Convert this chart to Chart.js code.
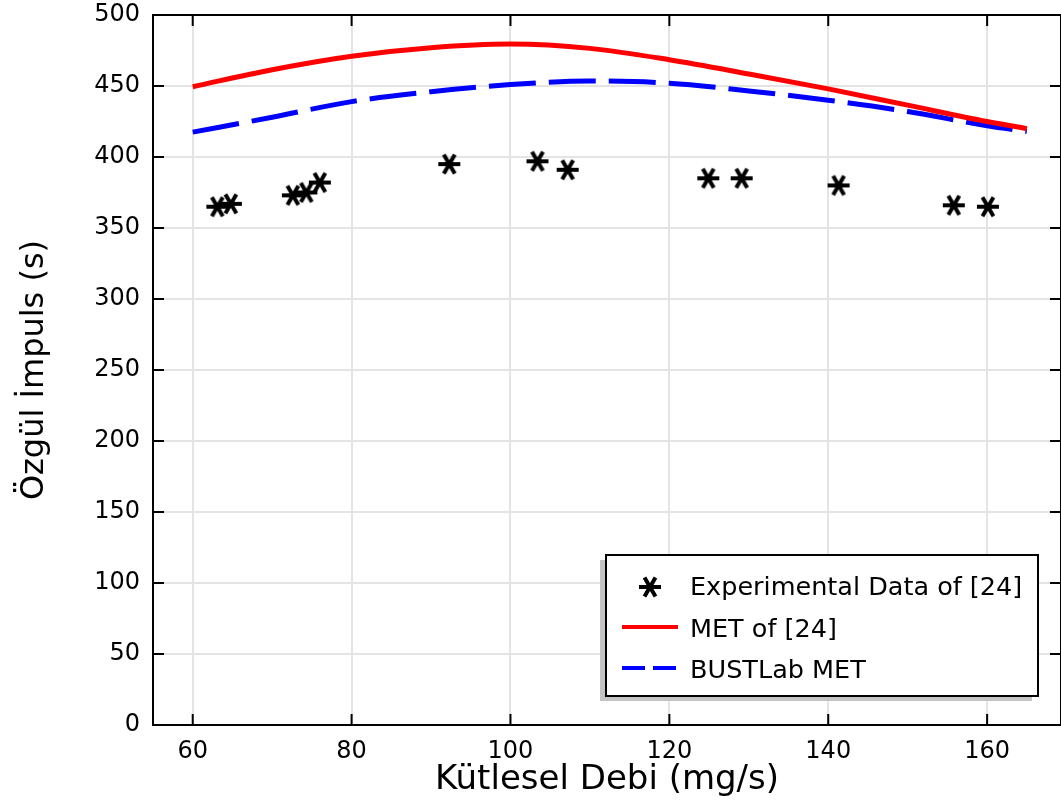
<!DOCTYPE html>
<html>
<head>
<meta charset="utf-8">
<title>Özgül İmpuls</title>
<script src="https://cdn.jsdelivr.net/npm/chart.js@4.4.0/dist/chart.umd.min.js"></script>
<style>
  html, body { margin: 0; padding: 0; background: #fff; overflow: hidden; }
  #wrap { width: 1061px; height: 805px; position: relative; }
</style>
</head>
<body>
<div id="wrap"><canvas id="ispChart"></canvas></div>
<script>
// experimental thruster points (mg/s, s)
const expFlow = [63.1, 64.8, 72.6, 74.3, 76.0, 92.3, 103.4, 107.2, 124.9, 129.1, 141.3, 155.8, 160.1];
const expIsp  = [365, 367, 373, 375, 382, 395, 397, 391, 385, 385, 380, 366, 365];

// model curves, sampled along the flow range
const modelFlow = [60, 70, 80, 90, 100, 110, 120, 130, 140, 150, 160, 165];
const metIsp    = [449.5, 461.5, 471, 477, 479.5, 476.5, 468.5, 458.5, 448, 436.5, 425, 420];
const bustIsp   = [417.5, 428, 439, 446, 451, 453.5, 452, 446.5, 440, 432, 422, 418];

const xTicks = [60, 80, 100, 120, 140, 160];
const yTicks = [0, 50, 100, 150, 200, 250, 300, 350, 400, 450, 500];
const seriesLabels = ['Experimental Data of [24]', 'MET of [24]', 'BUSTLab MET'];

const FONT = "'DejaVu Sans', 'Liberation Sans', sans-serif";

// six-armed asterisk marker
function makeAsterisk(r, lw) {
  const size = Math.ceil(2 * r + lw + 2);
  const c = document.createElement('canvas');
  c.width = size; c.height = size;
  const g = c.getContext('2d');
  g.translate(size / 2, size / 2);
  g.strokeStyle = '#000';
  g.lineWidth = lw;
  g.lineCap = 'butt';
  g.beginPath();
  for (const a of [0, Math.PI / 3, -Math.PI / 3]) {
    g.moveTo(-r * Math.cos(a), -r * Math.sin(a));
    g.lineTo(r * Math.cos(a), r * Math.sin(a));
  }
  g.stroke();
  return c;
}
const starImg = makeAsterisk(11, 4);

const toXY = (xs, ys) => xs.map((x, i) => ({ x: x, y: ys[i] }));

// box frame on all four sides with inward tick marks
const framePlugin = {
  id: 'frame',
  afterDraw(chart) {
    const { ctx, chartArea: a, scales } = chart;
    const len = 11;
    ctx.save();
    ctx.strokeStyle = '#000';
    ctx.lineWidth = 2;
    ctx.beginPath();
    xTicks.forEach(v => {
      const px = scales.x.getPixelForValue(v);
      ctx.moveTo(px, a.bottom); ctx.lineTo(px, a.bottom - len);
      ctx.moveTo(px, a.top); ctx.lineTo(px, a.top + len);
    });
    yTicks.forEach(v => {
      const py = scales.y.getPixelForValue(v);
      ctx.moveTo(a.left, py); ctx.lineTo(a.left + len, py);
      ctx.moveTo(a.right, py); ctx.lineTo(a.right - len, py);
    });
    ctx.stroke();
    ctx.strokeRect(a.left, a.top, a.right - a.left, a.bottom - a.top);
    ctx.restore();
  }
};

// legend box with drop shadow, lower right
const legendPlugin = {
  id: 'boxLegend',
  afterDraw(chart) {
    const { ctx } = chart;
    const bx = 606, by = 555, bw = 432, bh = 141;
    ctx.save();
    ctx.fillStyle = '#c4c4c4';
    ctx.fillRect(bx - 6, by + 5, bw, bh);
    ctx.fillStyle = '#fff';
    ctx.fillRect(bx, by, bw, bh);
    ctx.strokeStyle = '#000';
    ctx.lineWidth = 2;
    ctx.strokeRect(bx, by, bw, bh);

    const rows = [588, 630, 671];
    const ds = chart.data.datasets;
    // marker entry
    ctx.drawImage(starImg, 650 - starImg.width / 2, rows[0] - 1 - starImg.height / 2);
    // line entries
    [1, 2].forEach(i => {
      ctx.beginPath();
      ctx.strokeStyle = ds[i].borderColor;
      ctx.lineWidth = 4;
      ctx.setLineDash(i === 2 ? [23, 8] : []);
      ctx.moveTo(622, rows[i] - 3);
      ctx.lineTo(678, rows[i] - 3);
      ctx.stroke();
    });
    ctx.setLineDash([]);
    ctx.fillStyle = '#000';
    ctx.font = '25.5px ' + FONT;
    ctx.textBaseline = 'middle';
    ctx.textAlign = 'left';
    ds.forEach((d, i) => ctx.fillText(d.label, 690, rows[i]));
    ctx.restore();
  }
};

const ctx = document.getElementById('ispChart').getContext('2d');
new Chart(ctx, {
  type: 'scatter',
  data: {
    datasets: [{
      label: seriesLabels[0],
      data: toXY(expFlow, expIsp),
      pointStyle: starImg,
      showLine: false,
      order: 0
    }, {
      label: seriesLabels[1],
      data: toXY(modelFlow, metIsp),
      showLine: true,
      borderColor: '#ff0000',
      borderWidth: 5,
      pointRadius: 0,
      cubicInterpolationMode: 'monotone',
      order: 1
    }, {
      label: seriesLabels[2],
      data: toXY(modelFlow, bustIsp),
      showLine: true,
      borderColor: '#0000ff',
      borderWidth: 5,
      borderDash: [47, 13],
      pointRadius: 0,
      cubicInterpolationMode: 'monotone',
      order: 2
    }]
  },
  options: {
    responsive: true,
    maintainAspectRatio: false,
    animation: false,
    devicePixelRatio: 1,
    layout: { autoPadding: false, padding: { top: 15, right: 0, bottom: 0, left: 0 } },
    plugins: {
      legend: { display: false },
      tooltip: { enabled: false }
    },
    scales: {
      x: {
        type: 'linear',
        min: 55,
        max: 169.3,
        afterBuildTicks: s => { s.ticks = xTicks.map(v => ({ value: v })); },
        afterFit: s => { s.height = 80; s.paddingLeft = 0; s.paddingRight = 0; },
        grid: { color: '#e4e4e4', lineWidth: 2, drawTicks: false },
        border: { display: false },
        ticks: {
          color: '#000',
          padding: 12,
          font: { family: FONT, size: 24 },
          maxRotation: 0
        },
        title: {
          display: true,
          text: 'Kütlesel Debi (mg/s)',
          color: '#000',
          font: { family: FONT, size: 34 },
          padding: { top: 0, bottom: 4 }
        }
      },
      y: {
        min: 0,
        max: 500,
        afterBuildTicks: s => { s.ticks = yTicks.map(v => ({ value: v })); },
        afterFit: s => { s.width = 153; s.paddingTop = 0; s.paddingBottom = 0; },
        grid: { color: '#e4e4e4', lineWidth: 2, drawTicks: false },
        border: { display: false },
        ticks: {
          color: '#000',
          padding: 13,
          font: { family: FONT, size: 24 }
        },
        title: {
          display: true,
          text: 'Özgül İmpuls (s)',
          color: '#000',
          font: { family: FONT, size: 32 },
          padding: { top: 15, bottom: 0 }
        }
      }
    }
  },
  plugins: [framePlugin, legendPlugin]
});
</script>
</body>
</html>
